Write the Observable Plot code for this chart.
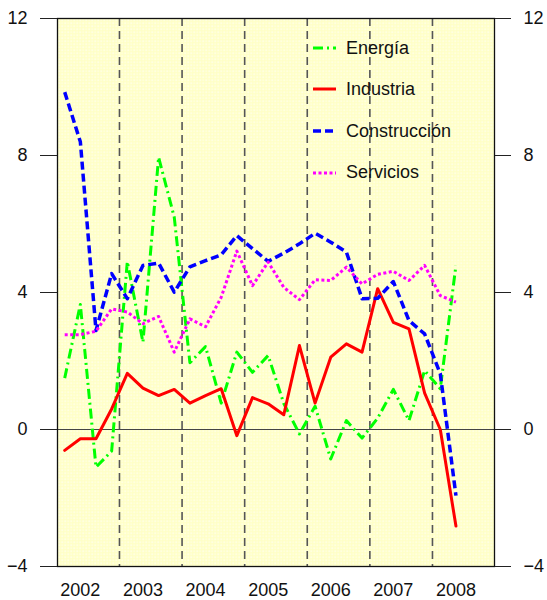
<!DOCTYPE html>
<html><head><meta charset="utf-8">
<script src="https://cdn.jsdelivr.net/npm/d3@7"></script>
<script src="https://cdn.jsdelivr.net/npm/@observablehq/plot@0.6"></script>
<style>
body{margin:0;background:#fff;font-family:"Liberation Sans",Arial,sans-serif;}
#wrap{position:relative;width:547px;height:600px;}
.row{position:absolute;display:flex;align-items:center;height:24px;font-size:18px;color:#111;white-space:nowrap;}
.row svg{margin-right:10px;}
</style></head><body><div id="wrap"></div>
<script>
// Quarterly series, 2002 Q1 .. 2008 Q2
const firstYear = 2002;
const yearLabels = [2002, 2003, 2004, 2005, 2006, 2007, 2008];
const yTicks = [-4, 0, 4, 8, 12];
const seriesNames = ["Energía", "Industria", "Construcción", "Servicios"];

const energia = [1.5, 3.65, -1.1, -0.63, 4.9, 2.55, 7.95, 6.2, 1.95, 2.42, 0.77, 2.26, 1.67, 2.16, 0.76, -0.13, 0.68, -0.86, 0.26, -0.25, 0.33, 1.17, 0.26, 1.72, 1.19, 4.79];
const industria = [-0.61, -0.27, -0.27, 0.6, 1.64, 1.21, 0.99, 1.17, 0.77, 0.99, 1.19, -0.18, 0.93, 0.75, 0.43, 2.45, 0.77, 2.11, 2.5, 2.26, 4.11, 3.13, 2.94, 1.06, 0.0, -2.82];
const construccion = [9.85, 8.4, 2.89, 4.55, 3.82, 4.79, 4.86, 4.01, 4.75, 4.93, 5.1, 5.66, 5.28, 4.91, 5.15, 5.42, 5.73, 5.47, 5.18, 3.82, 3.83, 4.32, 3.18, 2.79, 1.63, -1.93];
const servicios = [2.77, 2.77, 2.87, 3.52, 3.43, 3.09, 3.3, 2.26, 3.23, 3.0, 3.86, 5.21, 4.2, 4.89, 4.15, 3.79, 4.37, 4.35, 4.74, 4.25, 4.53, 4.62, 4.35, 4.79, 3.91, 3.72];

const seriesValues = [energia, industria, construccion, servicios];
const colors = ["#00ff00", "#ff0000", "#0000ff", "#ff00ff"];
const dashes = ["10,4,2,4", null, "8,4", "3,2.5"];
const widths = [3, 3, 3.5, 3];

const rows = seriesValues.map((vals, s) => vals.map((v, i) => ({serie: seriesNames[s], t: firstYear + i / 4, v})));

const lineMarks = rows.map((data, s) => Plot.line(data, {
  x: "t", y: "v", stroke: colors[s], strokeWidth: widths[s],
  strokeDasharray: dashes[s], strokeLinecap: dashes[s] ? "butt" : "round", strokeLinejoin: "round"
}));

const chart = Plot.plot({
  width: 547, height: 600,
  marginLeft: 57, marginRight: 53, marginTop: 18, marginBottom: 34,
  x: {domain: [2001.885, 2008.866]},
  y: {domain: [-4, 12]},
  style: {fontFamily: '"Liberation Sans", Arial, sans-serif', fontSize: "18px", color: "#111", background: "#fff"},
  marks: [
    Plot.frame({fill: "url(#bgpat)", stroke: null}),
    Plot.ruleX(yearLabels.slice(1).map(y => y - 0.125), {stroke: "#555", strokeWidth: 1.6, strokeDasharray: "8,5"}),
    Plot.ruleY([0], {stroke: "#444", strokeWidth: 1.2}),
    ...lineMarks,
    Plot.frame({stroke: "#111", strokeWidth: 1.3}),
    Plot.axisY(yTicks, {anchor: "left", tickSize: 17, tickPadding: 13, label: null, stroke: "#222"}),
    Plot.axisY(yTicks, {anchor: "right", tickSize: 16, tickPadding: 13, label: null, stroke: "#222"}),
    Plot.axisX(yearLabels.map(y => y + 0.25), {anchor: "bottom", tickSize: 0, tickPadding: 17, label: null, tickFormat: d => String(Math.round(d - 0.25))})
  ]
});

// dotted yellow background texture
const defs = d3.select(chart).insert("defs", ":first-child");
const pat = defs.append("pattern").attr("id", "bgpat").attr("patternUnits", "userSpaceOnUse")
  .attr("width", 6).attr("height", 6);
pat.append("rect").attr("width", 6).attr("height", 6).attr("fill", "#ffffc4");
pat.append("rect").attr("x", 1).attr("y", 1).attr("width", 1.4).attr("height", 1.4).attr("fill", "#ffffff");
pat.append("rect").attr("x", 4).attr("y", 4).attr("width", 1.4).attr("height", 1.4).attr("fill", "#ffffff");
pat.append("rect").attr("x", 4).attr("y", 1).attr("width", 1.4).attr("height", 1.4).attr("fill", "#ffffee");
pat.append("rect").attr("x", 1).attr("y", 4).attr("width", 1.4).attr("height", 1.4).attr("fill", "#ffffee");

const wrap = document.getElementById("wrap");
wrap.appendChild(chart);

// Legend inside the plot area
const legendTop = [48.3, 89.3, 131, 172.7];
seriesNames.forEach((name, s) => {
  const row = document.createElement("div");
  row.className = "row";
  row.style.left = "313px";
  row.style.top = (legendTop[s] - 12) + "px";
  row.innerHTML = `<svg width="23" height="10"><line x1="0" x2="23" y1="5" y2="5" stroke="${colors[s]}" stroke-width="${widths[s]}" ${dashes[s] ? `stroke-dasharray="${dashes[s]}"` : ""}/></svg><span>${name}</span>`;
  wrap.appendChild(row);
});
</script>
</body></html>
